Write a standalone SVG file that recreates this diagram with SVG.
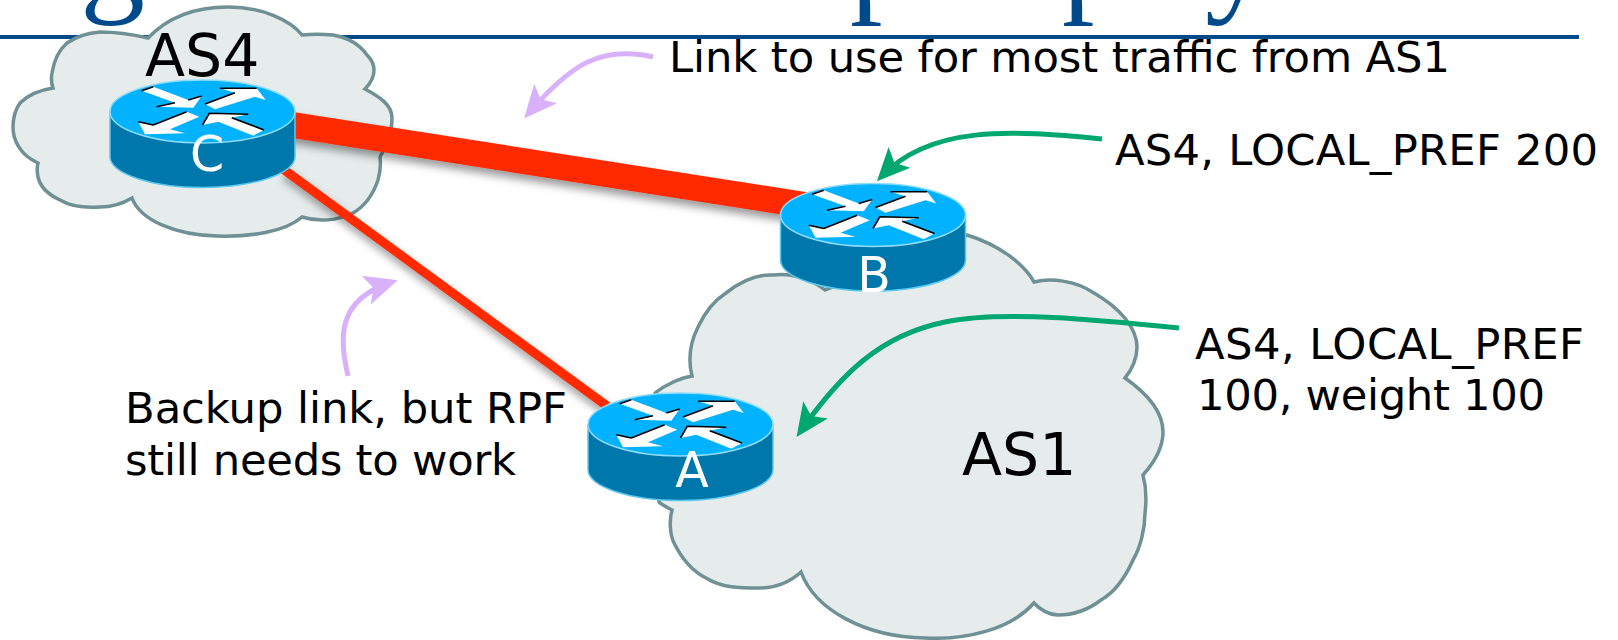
<svg xmlns="http://www.w3.org/2000/svg" width="1618" height="640" viewBox="0 0 1618 640">
<style>
.cloud{fill:#e6ecec;stroke:#6f9094;stroke-width:3.5;stroke-linejoin:miter}
.lbl{font-family:"DejaVu Sans",sans-serif;font-size:43.300px;fill:#000}
.as{font-family:"DejaVu Sans",sans-serif;font-size:58.500px;fill:#000}
.rt{font-family:"DejaVu Sans",sans-serif;font-size:49px;fill:#fff;text-anchor:middle}
.ttl{font-family:"Liberation Serif",serif;font-size:130px;fill:#004a8c}
.link{stroke:#ff2a00;fill:none;filter:url(#sh)}
.call{fill:none;stroke-width:5}
.p{stroke:#d9b0fa}
.g{stroke:#00a870}
</style>
<defs>
<filter id="sh" x="-10%" y="-30%" width="120%" height="170%"><feDropShadow dx="2" dy="6" stdDeviation="4" flood-color="#000" flood-opacity="0.4"/></filter>
<marker id="mp" markerUnits="userSpaceOnUse" markerWidth="36" markerHeight="36" refX="20" refY="12" orient="auto" viewBox="0 0 24 24"><path d="M24 12L2 2L7 12L2 22Z" fill="#d9b0fa"/></marker>
<marker id="mg" markerUnits="userSpaceOnUse" markerWidth="36" markerHeight="36" refX="20" refY="12" orient="auto" viewBox="0 0 24 24"><path d="M24 12L2 2L7 12L2 22Z" fill="#00a870"/></marker>
<g id="router">
<path d="M-92.500 0V45A92.500 31 0 0 0 92.500 45V0Z" fill="#0077aa" stroke="#5cc8f0" stroke-width="1.500"/>
<ellipse rx="92.500" ry="31.500" fill="#00b2ff" stroke="#8fdcf8" stroke-width="1.500"/>
<g fill="#fff">
<path d="M-60.800-20.800L-49.200-24.800L-14.200-11.500L-.8-15.500L-9.200-3.800L-45.800-4.800L-27.500-8.800Z"/>
<path d="M2.500-7.500L32.500-18.800L17.500-23.200H54.200L63.200-11.500L52.500-14.800L12.500-2.200Z"/>
<path d="M-64.200 10.200L-49.200 13.500L-15.800 .2L-3.200 5.200L-32.500 17.800L-17.500 21.800L-57.500 22.800Z"/>
<path d="M0 13.500L6.800 1.800L45.800 2.800L29.200 6.200L61.500 18.500L50.800 24.200L15.800 10.200Z"/>
</g>
<path d="M-60.800-20.800L-49.200-24.800M-45.800-4.800L-27.500-8.800M-14.200-11.500L-.8-15.500M2.500-7.500L32.500-18.800M17.500-23.200H54.200M-49.200 13.500L-15.800 .2M-64.200 10.200L-49.200 13.500M0 13.500L6.800 1.800L45.800 2.800M29.200 6.200L61.500 18.500" fill="none" stroke="#000" stroke-width="1.600"/>
</g>
</defs>
<rect width="1618" height="640" fill="#fff"/>
<g id="title">
<text class="ttl" x="80" y="-2">g</text>
<text class="ttl" x="850" y="-2">p</text>
<text class="ttl" x="1062" y="-2">p</text>
<text class="ttl" x="1205" y="-2">y</text>
<rect x="0" y="35" width="1579" height="4" fill="#004a8c"/>
</g>
<g id="cloud-as4">
<path class="cloud" d="M148 38C170 15 200 7 228 7C262 7 290 20 302 35C312 34 322 34 333 35C350 38 360 45 367 55C372 60 374 65 374 70C374 77 370 84 365 89C380 97 392 105 392 118C392 135 385 148 380 157C381 165 380 173 378 180C373 195 365 206 353 213C337 221 318 222 302 217C285 232 250 237 217 236C175 235 140 220 132 198C122 204 111 207 100 207C85 208 70 206 60 200C47 194 40 186 38 177C37 172 37 167 38 163C20 155 13 140 13 127C13 117 15 110 20 103C28 95 40 90 53 88C51 82 51 78 52 73C54 60 59 50 67 43C77 36 88 33 100 32C115 32 135 35 148 38Z"/>
<text class="as" x="145" y="76">AS4</text>
</g>
<g id="cloud-as1">
<path class="cloud" d="M967 235C1000 245 1025 265 1034 282C1050 278 1075 280 1094 293C1120 308 1137 328 1137 347C1137 358 1132 370 1125 378C1145 392 1163 410 1163 432C1163 450 1152 465 1143 475C1147 490 1146 505 1145 513C1145 530 1140 548 1133 560C1125 578 1115 592 1101 600C1088 610 1072 615 1058 615C1050 615 1040 610 1034 603C1010 630 965 640 925 638C865 637 815 610 801 572C790 582 775 588 759 588C740 588 722 588 706 578C690 570 680 555 674 543C670 535 669 520 672 510C668 508 662 505 659 502L655 393C665 385 680 378 692 376C688 360 690 343 698 327C706 310 715 300 726 293C740 282 757 274 773 275C795 272 815 282 825 290Z"/>
<text class="as" x="962" y="475">AS1</text>
</g>
<g id="connectors">
<path class="link" d="M280 123L830 209" stroke-width="26"/>
<path class="link" d="M283 169L607 406" stroke-width="9"/>
</g>
<g id="router-c"><use href="#router" x="202.500" y="111.500"/><text class="rt" x="207" y="171">C</text></g>
<g id="router-b"><use href="#router" x="873" y="215"/><text class="rt" x="874" y="292">B</text></g>
<g id="router-a"><use href="#router" x="680.500" y="424.500"/><text class="rt" x="692" y="487">A</text></g>
<g id="callouts">
<path class="call p" d="M653 57C600 45 570 65 528 114" marker-end="url(#mp)"/>
<path class="call p" d="M348 376C340 340 335 300 392 282" marker-end="url(#mp)"/>
<path class="call g" d="M1102 139C1010 130 930 125 881 177" marker-end="url(#mg)"/>
<path class="call g" d="M1179 328C1100 320 1000 310 945 322C880 335 840 375 800 432" marker-end="url(#mg)"/>
<text class="lbl" x="669" y="72" textLength="781">Link to use for most traffic from AS1</text>
<text class="lbl" x="1115" y="165" textLength="483">AS4, LOCAL_PREF 200</text>
<text class="lbl" x="1195" y="359" textLength="389">AS4, LOCAL_PREF</text>
<text class="lbl" x="1197" y="410" textLength="348">100, weight 100</text>
<text class="lbl" x="125" y="423" textLength="442">Backup link, but RPF</text>
<text class="lbl" x="125" y="475" textLength="391">still needs to work</text>
</g>
</svg>
